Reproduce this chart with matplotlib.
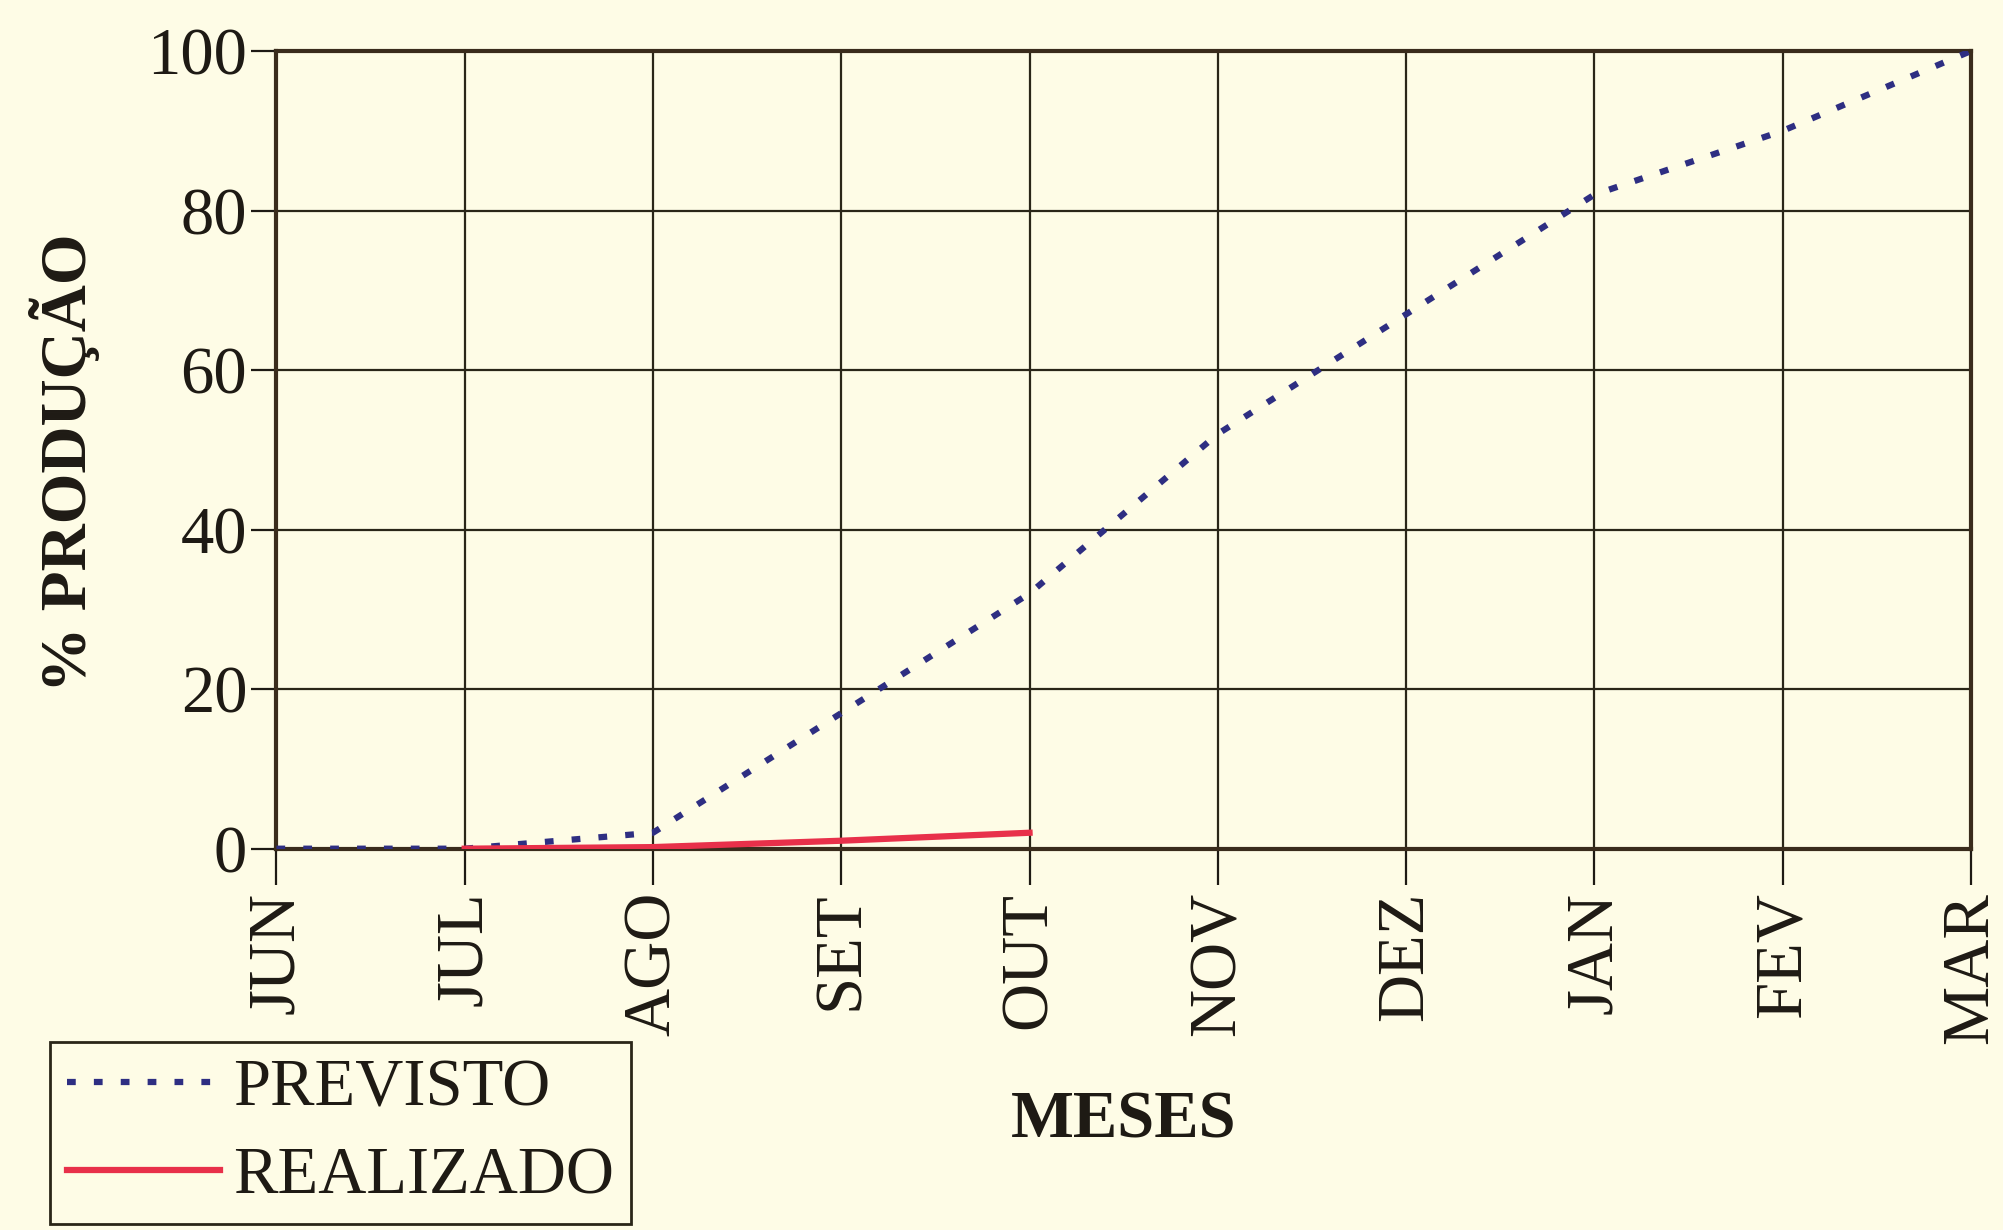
import numpy as np
import matplotlib.pyplot as plt

meses = ['JUN', 'JUL', 'AGO', 'SET', 'OUT', 'NOV', 'DEZ', 'JAN', 'FEV', 'MAR']
previsto = [0, 0, 2, 17, 32, 52, 67, 82, 90, 100]
realizado_meses = ['JUL', 'AGO', 'SET', 'OUT']
realizado = [0, 0.2, 1, 2]

bg = '#FEFCE6'
ink = '#1E1A14'
fs = 48
plt.rcParams['font.family'] = ['Liberation Serif', 'DejaVu Serif']

fig = plt.figure(figsize=(20.03, 12.30), dpi=100, facecolor=bg)
ax = fig.add_axes([0.138, 0.310, 0.846, 0.6485], facecolor=bg)

x = np.arange(len(meses))
xr = [meses.index(m) for m in realizado_meses]

ax.plot(x, previsto, color='#2E2E82', lw=4.5, linestyle=(0, (1.4, 2.9)),
        label='PREVISTO', zorder=3)
ax.plot(xr, realizado, color='#E8304A', lw=4.5, label='REALIZADO', zorder=4)

ax.set_xlim(0, len(meses) - 1)
ax.set_ylim(0, 100)
ax.set_yticks(range(0, 101, 20))
ax.set_xticks(x)
ax.set_xticklabels(meses, rotation=90, va='top', ha='center')

ax.grid(True, color='#2A2618', lw=1.6)
ax.set_axisbelow(True)
for s in ax.spines.values():
    s.set_color('#3A2C1C')
    s.set_linewidth(3)
ax.tick_params(axis='both', labelsize=fs, colors=ink, width=1.6,
               length=18, direction='out')
ax.tick_params(axis='x', length=26, pad=5)
ax.tick_params(axis='y', pad=3)

fig.text(0.032, 0.624, '% PRODUÇÃO', rotation=90, fontsize=fs - 1,
         fontweight='bold', ha='center', va='center', color=ink)
fig.text(0.561, 0.089, 'MESES', fontsize=fs, fontweight='bold',
         ha='center', va='center', color=ink)

leg = fig.legend(loc='lower left', bbox_to_anchor=(0.025, 0.005),
                 fontsize=fs, handlelength=2.3, handletextpad=0.2,
                 labelspacing=0.4, borderpad=0.25, fancybox=False,
                 framealpha=1, facecolor=bg, edgecolor='#2A2618',
                 borderaxespad=0)
leg.get_frame().set_linewidth(2)
for t in leg.get_texts():
    t.set_color(ink)

fig.savefig('out.png', dpi=100, facecolor=bg)
